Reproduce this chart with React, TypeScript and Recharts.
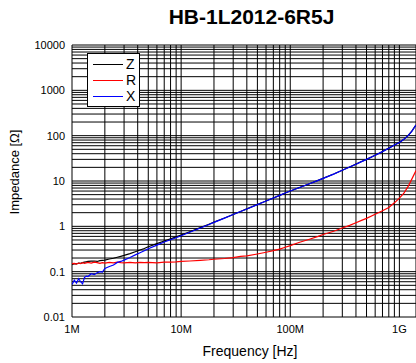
import * as React from "react";
import { CartesianGrid, Line, LineChart, XAxis, YAxis } from "recharts";

// frequency points in MHz
const FREQ_MHZ = [
  1.0, 1.05, 1.1, 1.15, 1.2, 1.25, 1.3, 1.35, 1.4, 1.5, 1.6, 1.7, 1.8, 1.9, 2.0, 2.2, 2.4, 2.6, 2.8,
  3.0, 3.4, 3.8, 4.2, 4.6, 5, 6, 7, 8, 9, 10, 12, 15, 18, 20, 25, 30, 35, 40, 50, 60, 70, 80, 90,
  100, 120, 150, 180, 200, 250, 300, 350, 400, 450, 500, 600, 700, 800, 900, 1000, 1100, 1200,
  1300, 1420,
];

const Z_OHM = [
  0.142, 0.15, 0.148, 0.155, 0.152, 0.158, 0.162, 0.165, 0.168, 0.17, 0.172, 0.168, 0.175, 0.178,
  0.18, 0.19, 0.198, 0.208, 0.218, 0.228, 0.25, 0.275, 0.3, 0.325, 0.355, 0.415, 0.475, 0.53,
  0.585, 0.642, 0.76, 0.937, 1.115, 1.235, 1.53, 1.83, 2.13, 2.43, 3.03, 3.63, 4.23, 4.83, 5.43,
  6.01, 7.11, 8.72, 10.32, 11.42, 14.22, 17.22, 20.33, 23.53, 26.83, 30.04, 37.05, 44.55, 53.06,
  62.09, 71.12, 83.18, 100.3, 125.5, 172.8,
];

const R_OHM = [
  0.15, 0.152, 0.147, 0.155, 0.15, 0.158, 0.152, 0.156, 0.16, 0.155, 0.162, 0.158, 0.152, 0.158,
  0.155, 0.16, 0.156, 0.162, 0.158, 0.157, 0.16, 0.156, 0.161, 0.158, 0.16, 0.157, 0.162, 0.163,
  0.165, 0.168, 0.172, 0.178, 0.183, 0.188, 0.195, 0.205, 0.218, 0.222, 0.245, 0.268, 0.29, 0.315,
  0.345, 0.375, 0.44, 0.52, 0.6, 0.66, 0.78, 0.92, 1.05, 1.2, 1.35, 1.5, 1.85, 2.2, 2.6, 3.3, 4.2,
  5.4, 7.5, 11, 17,
];

const X_OHM = [
  0.052, 0.065, 0.056, 0.07, 0.06, 0.054, 0.074, 0.08, 0.078, 0.09, 0.086, 0.095, 0.1, 0.098,
  0.118, 0.13, 0.14, 0.16, 0.168, 0.18, 0.205, 0.235, 0.262, 0.29, 0.32, 0.385, 0.45, 0.505, 0.56,
  0.62, 0.74, 0.92, 1.1, 1.22, 1.52, 1.82, 2.12, 2.42, 3.02, 3.62, 4.22, 4.82, 5.42, 6.0, 7.1, 8.7,
  10.3, 11.4, 14.2, 17.2, 20.3, 23.5, 26.8, 30, 37, 44.5, 53, 62, 71, 83, 100, 125, 172,
];

const X_DECADES = [1e6, 1e7, 1e8, 1e9];
const X_DECADE_LABELS = ["1M", "10M", "100M", "1G"];
const Y_DECADES = [0.01, 0.1, 1, 10, 100, 1000];
const Y_DECADE_LABELS = ["0.01", "0.1", "1", "10", "100", "1000", "10000"];
const MINOR_STEPS = [1, 2, 3, 4, 5, 6, 7, 8, 9];

const SERIES = [
  { key: "z", label: "Z", color: "#000000" },
  { key: "r", label: "R", color: "#ff0000" },
  { key: "x", label: "X", color: "#0000ff" },
];

const X_MAX = 1.42e9;
const FONT = '"Liberation Sans", Arial, Helvetica, sans-serif';

const rows = FREQ_MHZ.map((f, i) => ({
  f: f * 1e6,
  z: Z_OHM[i],
  r: R_OHM[i],
  x: X_OHM[i],
}));

const xTicks = X_DECADES.flatMap((d) => MINOR_STEPS.map((m) => d * m)).filter((v) => v <= X_MAX);
const yTicks = [...Y_DECADES.flatMap((d) => MINOR_STEPS.map((m) => d * m)), 10000];

function xLabel(v: number) {
  const idx = X_DECADES.findIndex((d) => Math.abs(d - v) / d < 1e-6);
  return idx >= 0 ? X_DECADE_LABELS[idx] : "";
}

function yLabel(v: number) {
  const all = [...Y_DECADES, 10000];
  const idx = all.findIndex((d) => Math.abs(d - v) / d < 1e-6);
  return idx >= 0 ? Y_DECADE_LABELS[idx] : "";
}

export default function App() {
  return (
    <div
      style={{
        position: "absolute",
        left: 0,
        top: 0,
        width: 416,
        height: 363,
        background: "#fff",
        fontFamily: FONT,
        overflow: "hidden",
      }}
    >
      <div
        style={{
          position: "absolute",
          left: 87,
          right: 0,
          top: 5,
          textAlign: "center",
          fontSize: 21,
          fontWeight: 700,
          color: "#000",
        }}
      >
        HB-1L2012-6R5J
      </div>

      <LineChart
        width={416}
        height={363}
        data={rows}
        margin={{ top: 45, right: 0, left: 10, bottom: 16 }}
      >
        <CartesianGrid stroke="#000" strokeWidth={1} />
        <XAxis
          dataKey="f"
          type="number"
          scale="log"
          domain={[1e6, X_MAX]}
          allowDataOverflow
          ticks={xTicks}
          interval={0}
          tickFormatter={xLabel}
          axisLine={false}
          tickLine={false}
          height={30}
          tick={{ fontSize: 11, fill: "#000", fontFamily: FONT }}
        />
        <YAxis
          type="number"
          scale="log"
          domain={[0.01, 10000]}
          allowDataOverflow
          ticks={yTicks}
          interval={0}
          tickFormatter={yLabel}
          axisLine={false}
          tickLine={false}
          tickSize={5}
          width={62}
          tick={{ fontSize: 11, fill: "#000", fontFamily: FONT }}
        />
        {SERIES.map((s) => (
          <Line
            key={s.key}
            type="linear"
            dataKey={s.key}
            stroke={s.color}
            strokeWidth={1.2}
            dot={false}
            isAnimationActive={false}
          />
        ))}
      </LineChart>

      <div
        style={{
          position: "absolute",
          left: 87,
          top: 53,
          width: 53,
          height: 54,
          boxSizing: "border-box",
          background: "#fff",
          border: "1px solid #000",
          paddingTop: 2,
        }}
      >
        {SERIES.map((s) => (
          <div
            key={s.key}
            style={{ display: "flex", alignItems: "center", height: 16, fontSize: 14, color: "#000" }}
          >
            <span
              style={{
                display: "inline-block",
                width: 30,
                height: 0,
                borderTop: `1px solid ${s.color}`,
                marginLeft: 5,
              }}
            />
            <span style={{ marginLeft: 3 }}>{s.label}</span>
          </div>
        ))}
      </div>

      <div
        style={{
          position: "absolute",
          left: 84,
          right: 0,
          top: 343,
          textAlign: "center",
          fontSize: 14,
          color: "#000",
        }}
      >
        Frequency [Hz]
      </div>
      <div
        style={{
          position: "absolute",
          left: 14,
          top: 172,
          fontSize: 13,
          color: "#000",
          whiteSpace: "nowrap",
          transform: "translate(-50%, -50%) rotate(-90deg)",
        }}
      >
        Impedance [Ω]
      </div>
    </div>
  );
}
